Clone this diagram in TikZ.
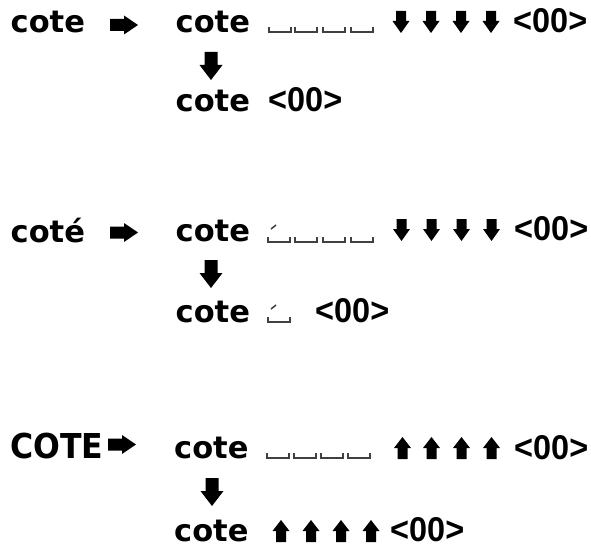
\documentclass[tikz,border=0pt]{standalone}
\usepackage{fontspec}
\setmainfont{DejaVu Sans}
\newfontfamily\libfont{Liberation Sans}
\usepackage{graphicx}
\newcommand\ooText{\resizebox{74pt}{24pt}{\libfont\bfseries <00>}}
\tikzset{
  word/.style={anchor=base west, inner sep=0pt, text depth=0pt, font=\fontsize{30.5}{30}\selectfont\bfseries},
  capword/.style={anchor=base west, inner sep=0pt, text depth=0pt, font=\fontsize{34.3}{34}\selectfont\bfseries},
  oo/.style={anchor=base west, inner sep=0pt, text depth=0pt},
  rarr/.pic={\fill (0,-6) -- (14,-6) -- (14,-9.5) -- (28,0) -- (14,9.5) -- (14,6) -- (0,6) -- cycle;},
  darr/.pic={\fill (-5,0) -- (5,0) -- (5,10) -- (8.5,10) -- (0,22) -- (-8.5,10) -- (-5,10) -- cycle;},
  uarr/.pic={\fill (0,0) -- (8.5,11) -- (5,11) -- (5,22) -- (-5,22) -- (-5,11) -- (-8.5,11) -- cycle;},
  bigdarr/.pic={\fill (-6.5,0) -- (6.5,0) -- (6.5,13) -- (11.5,13) -- (0,28) -- (-11.5,13) -- (-6.5,13) -- cycle;},
  spc/.pic={\draw[line width=1.1pt, black!75] (0,-5) -- (0,0) -- (22,0) -- (22,-5);},
  spcacute/.pic={\draw[line width=1.1pt, black!75] (0,-5) -- (0,0) -- (22,0) -- (22,-5);
                 \draw[line width=1.4pt, black!80] (3,-13) -- (8,-17);},
}
\begin{document}
\begin{tikzpicture}[x=1pt, y=-1pt]
\useasboundingbox (0,0) rectangle (591,548);
% ---- row 1
\node[word] (w1) at (10.5,33) {cote};
\pic (ra1) at (110,25) {rarr};
\node[word] (c1) at (175.5,33) {cote};
\pic (s1a) at (269,32) {spc};
\pic (s1b) at (295,32) {spc};
\pic (s1c) at (323,32) {spc};
\pic (s1d) at (351,32) {spc};
\pic (da1a) at (401,11) {darr};
\pic (da1b) at (431,11) {darr};
\pic (da1c) at (461,11) {darr};
\pic (da1d) at (491,11) {darr};
\node[oo] (o1) at (513,33) {\ooText};
\pic (bd1) at (211,52) {bigdarr};
\node[word] (d1) at (175.5,112) {cote};
\node[oo] (od1) at (268,112) {\ooText};
% ---- row 2
\node[word] (w2) at (10.5,242) {coté};
\pic (ra2) at (110,232.5) {rarr};
\node[word] (c2) at (175.5,241) {cote};
\pic (s2a) at (268,242) {spcacute};
\pic (s2b) at (295,242) {spc};
\pic (s2c) at (323,242) {spc};
\pic (s2d) at (351,242) {spc};
\pic (da2a) at (401.5,219) {darr};
\pic (da2b) at (431.5,219) {darr};
\pic (da2c) at (461.5,219) {darr};
\pic (da2d) at (491.5,219) {darr};
\node[oo] (o2) at (514,240) {\ooText};
\pic (bd2) at (211,260) {bigdarr};
\node[word] (d2) at (175.5,322) {cote};
\pic (s2e) at (268,322) {spcacute};
\node[oo] (od2) at (315,322) {\ooText};
% ---- row 3
\node[capword] (w3) at (10,458) {\scalebox{0.92}[1]{COTE}};
\pic (ra3) at (108,444.5) {rarr};
\node[word] (c3) at (174,458) {cote};
\pic (s3a) at (267,458) {spc};
\pic (s3b) at (294,458) {spc};
\pic (s3c) at (321,458) {spc};
\pic (s3d) at (348,458) {spc};
\pic (ua3a) at (402.5,437) {uarr};
\pic (ua3b) at (431.5,437) {uarr};
\pic (ua3c) at (461.5,437) {uarr};
\pic (ua3d) at (491.5,437) {uarr};
\node[oo] (o3) at (514,459) {\ooText};
\pic (bd3) at (212,478) {bigdarr};
\node[word] (d3) at (174,541) {cote};
\pic (ub3a) at (281,520) {uarr};
\pic (ub3b) at (311,520) {uarr};
\pic (ub3c) at (341,520) {uarr};
\pic (ub3d) at (371,520) {uarr};
\node[oo] (od3) at (390,541) {\ooText};
\end{tikzpicture}
\end{document}
